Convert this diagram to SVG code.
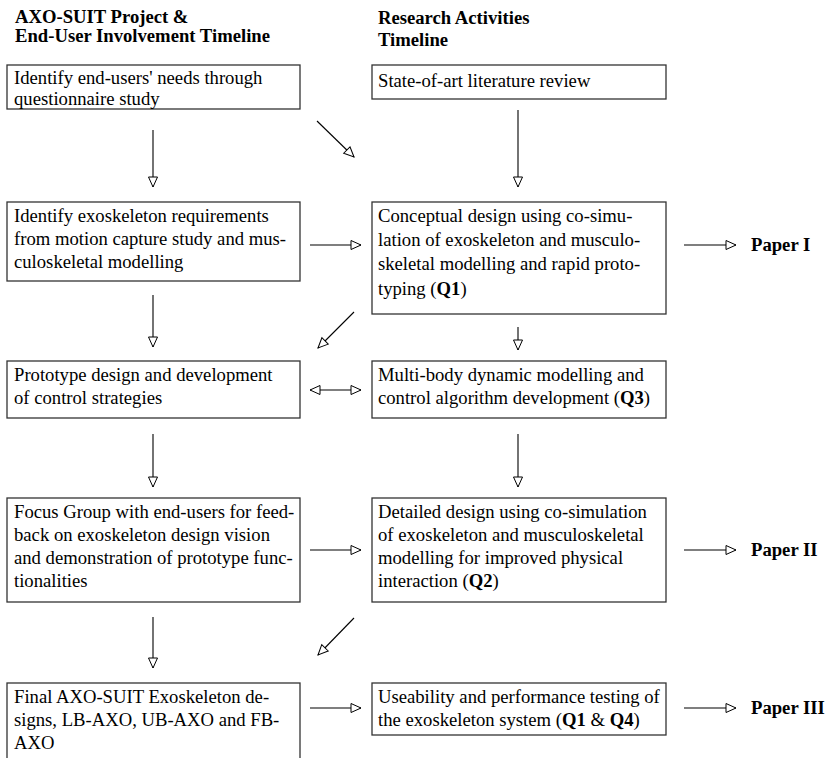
<svg xmlns="http://www.w3.org/2000/svg" width="838" height="758" viewBox="0 0 838 758">
<defs>
<marker id="ah" viewBox="0 0 12 12" refX="11" refY="6" markerWidth="12" markerHeight="12" markerUnits="userSpaceOnUse" orient="auto-start-reverse">
<path d="M1,1.5 L11,6 L1,10.5 Z" fill="#fff" stroke="#000" stroke-width="1"/>
</marker>
<style>
.box{fill:#fff;stroke:#333;stroke-width:1.3}
.t{font-family:"Liberation Serif","Times New Roman",serif;font-size:18.67px;fill:#000}
.h{font-family:"Liberation Serif","Times New Roman",serif;font-size:18.67px;font-weight:bold;fill:#000}
.c{stroke:#000;stroke-width:1.1;fill:none;marker-end:url(#ah)}
</style>
</defs>
<rect width="838" height="758" fill="#fff"/>
<g id="headers">
<text class="h" x="15" y="23">AXO-SUIT Project &amp;</text>
<text class="h" x="15" y="42">End-User Involvement Timeline</text>
<text class="h" x="378" y="24">Research Activities</text>
<text class="h" x="378" y="46">Timeline</text>
</g>
<g id="L1"><rect class="box" x="7" y="65" width="293" height="44"/>
<text class="t" x="14" y="84">Identify end-users' needs through</text>
<text class="t" x="14" y="105">questionnaire study</text></g>
<g id="R1"><rect class="box" x="372" y="65" width="294" height="34"/>
<text class="t" x="378" y="87">State-of-art literature review</text></g>
<g id="L2"><rect class="box" x="7" y="202" width="293" height="79"/>
<text class="t" x="14" y="222">Identify exoskeleton requirements</text>
<text class="t" x="14" y="245">from motion capture study and mus-</text>
<text class="t" x="14" y="268">culoskeletal modelling</text></g>
<g id="R2"><rect class="box" x="372" y="202" width="294" height="112"/>
<text class="t" x="378" y="222">Conceptual design using co-simu-</text>
<text class="t" x="378" y="246">lation of exoskeleton and musculo-</text>
<text class="t" x="378" y="270">skeletal modelling and rapid proto-</text>
<text class="t" x="378" y="295">typing (<tspan font-weight="bold">Q1</tspan>)</text></g>
<g id="L3"><rect class="box" x="7" y="361" width="293" height="57"/>
<text class="t" x="14" y="381">Prototype design and development</text>
<text class="t" x="14" y="404">of control strategies</text></g>
<g id="R3"><rect class="box" x="372" y="361" width="294" height="57"/>
<text class="t" x="378" y="381">Multi-body dynamic modelling and</text>
<text class="t" x="378" y="404">control algorithm development (<tspan font-weight="bold">Q3</tspan>)</text></g>
<g id="L4"><rect class="box" x="7" y="498" width="293" height="104"/>
<text class="t" x="14" y="518">Focus Group with end-users for feed-</text>
<text class="t" x="14" y="541">back on exoskeleton design vision</text>
<text class="t" x="14" y="564">and demonstration of prototype func-</text>
<text class="t" x="14" y="587">tionalities</text></g>
<g id="R4"><rect class="box" x="372" y="498" width="294" height="104"/>
<text class="t" x="378" y="518">Detailed design using co-simulation</text>
<text class="t" x="378" y="541">of exoskeleton and musculoskeletal</text>
<text class="t" x="378" y="564">modelling for improved physical</text>
<text class="t" x="378" y="587">interaction (<tspan font-weight="bold">Q2</tspan>)</text></g>
<g id="L5"><rect class="box" x="7" y="683" width="293" height="90"/>
<text class="t" x="14" y="703">Final AXO-SUIT Exoskeleton de-</text>
<text class="t" x="14" y="726">signs, LB-AXO, UB-AXO and FB-</text>
<text class="t" x="14" y="749">AXO</text></g>
<g id="R5"><rect class="box" x="372" y="683" width="294" height="52"/>
<text class="t" x="378" y="703">Useability and performance testing of</text>
<text class="t" x="378" y="726">the exoskeleton system (<tspan font-weight="bold">Q1</tspan> &amp; <tspan font-weight="bold">Q4</tspan>)</text></g>
<g id="papers">
<text class="h" x="751" y="251">Paper I</text>
<text class="h" x="751" y="556">Paper II</text>
<text class="h" x="751" y="714">Paper III</text>
</g>
<g id="connectors">
<line class="c" x1="153" y1="130" x2="153" y2="187"/>
<line class="c" x1="518" y1="110" x2="518" y2="187"/>
<line class="c" x1="317" y1="121" x2="354" y2="157"/>
<line class="c" x1="310" y1="245" x2="361" y2="245"/>
<line class="c" x1="684" y1="245" x2="736" y2="245"/>
<line class="c" x1="153" y1="295" x2="153" y2="347"/>
<line class="c" x1="518" y1="327" x2="518" y2="350"/>
<line class="c" x1="354" y1="312" x2="318" y2="348"/>
<line class="c" x1="310" y1="390" x2="361" y2="390" style="marker-start:url(#ah)"/>
<line class="c" x1="153" y1="434" x2="153" y2="487"/>
<line class="c" x1="518" y1="434" x2="518" y2="487"/>
<line class="c" x1="310" y1="550" x2="361" y2="550"/>
<line class="c" x1="684" y1="550" x2="736" y2="550"/>
<line class="c" x1="153" y1="617" x2="153" y2="668"/>
<line class="c" x1="354" y1="618" x2="318" y2="655"/>
<line class="c" x1="310" y1="708" x2="361" y2="708"/>
<line class="c" x1="684" y1="708" x2="736" y2="708"/>
</g>
</svg>
